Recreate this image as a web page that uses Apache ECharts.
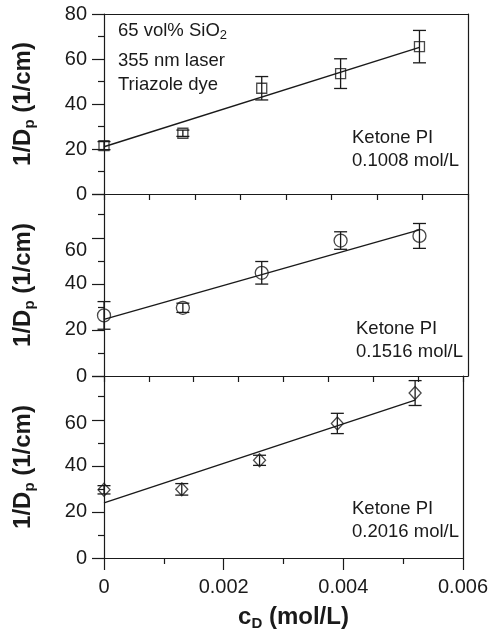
<!DOCTYPE html>
<html>
<head>
<meta charset="utf-8">
<script src="https://cdn.jsdelivr.net/npm/echarts@6/dist/echarts.min.js"></script>
<style>html,body{margin:0;padding:0;background:#fff}#c{width:491px;height:638px}</style>
</head>
<body>
<div id="c"></div>
<script>
// ---- data ----
const xVals = [0, 0.0013, 0.0026, 0.0039, 0.0052];
const yTop = [21.5, 27, 47, 53.5, 65.5];
const errTop = [1.8, 1.4, 5.2, 6.6, 7.2];
const yMid = [26.3, 29.6, 44.8, 58.8, 60.8];
const errMid = [6, 2, 4.9, 3.8, 5.4];
const yBot = [29.6, 29.8, 42.4, 58.4, 71.6];
const errBot = [1.8, 2.5, 2.2, 4.4, 5.4];
const fitX = [0, 0.0052];
const fitTop = [21, 65.2];
const fitMid = [24.6, 63.4];
const fitBot = [23.9, 68.5];
const xTickLabels = ['0', '0.002', '0.004', '0.006'];
const panelLabels = [['Ketone PI', '0.1008 mol/L'], ['Ketone PI', '0.1516 mol/L'], ['Ketone PI', '0.2016 mol/L']];
const noteLines = ['65 vol% SiO{sub|2}', '355 nm laser', 'Triazole dye'];

const INK = '#1a1a1a';
const FONT = 'Liberation Sans, Arial, sans-serif';
const TICKFS = 20;
const NOTEFS = 18.5;
const TITLEFS = 24;

const chart = echarts.init(document.getElementById('c'), null, {renderer: 'canvas'});

const grids = [
  {left: 104, top: 14, width: 364, height: 180},
  {left: 104, top: 194, width: 364, height: 182},
  {left: 104, top: 376, width: 364, height: 182}
];
const yMax = [80, 79, 79];

const axLine = {show: true, onZero: false, lineStyle: {color: INK, width: 1.2}};
const titleRich = {
  m: {fontSize: TITLEFS, fontWeight: 'bold', color: INK, fontFamily: FONT},
  sub: {fontSize: 15, fontWeight: 'bold', color: INK, fontFamily: FONT, padding: [13, 0, 0, 0]}
};
const xAxes = [];
const yAxes = [];
grids.forEach((g, i) => {
  const isLast = i === 2;
  xAxes.push({
    gridIndex: i, type: 'value', min: 0, max: 0.006, position: 'bottom',
    interval: 0.002,
    axisLine: axLine,
    axisTick: {show: isLast, inside: false, length: 12, lineStyle: {color: INK, width: 1.2}},
    minorTick: {show: isLast, splitNumber: 2, length: 6, lineStyle: {color: INK, width: 1.2}},
    axisLabel: {show: isLast, margin: 19, color: INK, fontSize: TICKFS, fontFamily: FONT,
      formatter: v => xTickLabels[Math.round(v / 0.002)]},
    splitLine: {show: false},
    name: isLast ? '{m|c}{sub|D}{m| (mol/L)}' : '',
    nameLocation: 'middle', nameGap: 45,
    nameTextStyle: {padding: [0, 0, 0, 20], rich: titleRich}
  });
  xAxes.push({
    gridIndex: i, type: 'value', min: 0, max: 0.006, position: 'top',
    interval: 0.00075,
    axisLine: axLine,
    axisTick: {show: i > 0, inside: true, length: 6, lineStyle: {color: INK, width: 1.2}},
    axisLabel: {show: false}, splitLine: {show: false}
  });
  yAxes.push({
    gridIndex: i, type: 'value', min: 0, max: yMax[i], interval: 20, position: 'left',
    axisLine: axLine,
    axisTick: {show: true, inside: false, length: 12, lineStyle: {color: INK, width: 1.2}},
    minorTick: {show: true, splitNumber: 2, length: 6, lineStyle: {color: INK, width: 1.2}},
    axisLabel: {margin: 17, color: INK, fontSize: TICKFS, fontFamily: FONT,
      formatter: v => {
        if (i > 0 && v > 70) return '';
        if (i === 1 && v === 60) return '{d1|60}';
        if (i === 2 && v === 60) return '{d2|60}';
        return String(v);
      },
      rich: {
        d1: {fontSize: TICKFS, color: INK, fontFamily: FONT, padding: [26, 0, 0, 0]},
        d2: {fontSize: TICKFS, color: INK, fontFamily: FONT, padding: [7, 0, 0, 0]}
      }
    },
    splitLine: {show: false},
    name: '{m|1/D}{sub|p}{m| (1/cm)}',
    nameLocation: 'middle', nameGap: 67, nameRotate: 90,
    nameTextStyle: {rich: titleRich}
  });
  yAxes.push({
    gridIndex: i, type: 'value', min: 0, max: yMax[i], position: 'right',
    axisLine: axLine, axisTick: {show: false}, axisLabel: {show: false}, splitLine: {show: false}
  });
});

const sets = [
  {y: yTop, e: errTop, fit: fitTop, sym: 'rect', size: 10},
  {y: yMid, e: errMid, fit: fitMid, sym: 'circle', size: 13},
  {y: yBot, e: errBot, fit: fitBot, sym: 'diamond', size: [12, 13]}
];

const series = [];
sets.forEach((s, i) => {
  const xi = i * 2, yi = i * 2;
  series.push({
    type: 'line', xAxisIndex: xi, yAxisIndex: yi,
    data: fitX.map((x, k) => [x, s.fit[k]]),
    showSymbol: false, symbol: 'none', silent: true, animation: false,
    lineStyle: {color: INK, width: 1.4}
  });
  series.push({
    type: 'custom', xAxisIndex: xi, yAxisIndex: yi, animation: false,
    data: xVals.map((x, k) => [x, s.y[k], s.e[k]]),
    renderItem: (params, api) => {
      const x = api.value(0), y = api.value(1), e = api.value(2);
      const top = api.coord([x, y + e]);
      const bot = api.coord([x, y - e]);
      const h = 6.5;
      const st = {stroke: INK, lineWidth: 1.3};
      return {type: 'group', children: [
        {type: 'line', shape: {x1: top[0], y1: top[1], x2: bot[0], y2: bot[1]}, style: st},
        {type: 'line', shape: {x1: top[0] - h, y1: top[1], x2: top[0] + h, y2: top[1]}, style: st},
        {type: 'line', shape: {x1: bot[0] - h, y1: bot[1], x2: bot[0] + h, y2: bot[1]}, style: st}
      ]};
    }
  });
  series.push({
    type: 'scatter', xAxisIndex: xi, yAxisIndex: yi, animation: false,
    data: xVals.map((x, k) => [x, s.y[k]]),
    symbol: s.sym, symbolSize: s.size,
    itemStyle: {color: 'rgba(0,0,0,0)', borderColor: INK, borderWidth: 1.3}
  });
});

const graphics = [];
const noteTop = [21, 51, 75];
noteLines.forEach((t, k) => {
  graphics.push({type: 'text', left: 118, top: noteTop[k], style: {
    text: t, fill: INK, font: NOTEFS + 'px ' + FONT,
    rich: {sub: {fontSize: 13, fill: INK, fontFamily: FONT, padding: [10, 0, 0, 0]}}
  }});
});
const lblPos = [[352, 128], [356, 319], [352, 499]];
panelLabels.forEach((pair, i) => {
  pair.forEach((t, k) => {
    graphics.push({type: 'text', left: lblPos[i][0], top: lblPos[i][1] + k * 23,
      style: {text: t, fill: INK, font: NOTEFS + 'px ' + FONT}});
  });
});

chart.setOption({
  animation: false,
  backgroundColor: '#fff',
  grid: grids,
  xAxis: xAxes,
  yAxis: yAxes,
  series: series,
  graphic: graphics
});
</script>
</body>
</html>
